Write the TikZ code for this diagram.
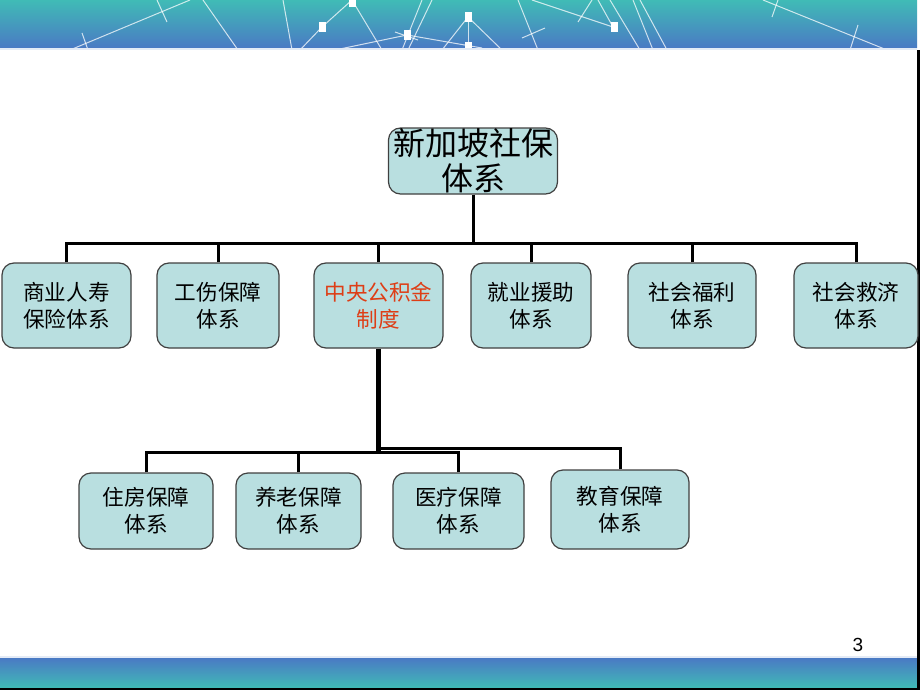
\documentclass[tikz,border=0pt]{standalone}
\usepackage{fontspec}
\setmainfont{Liberation Sans}
\newfontfamily\cjk{Noto Sans CJK SC}
\usepackage{tikz}
\tikzset{>=latex}
\usepackage{xcolor}
\definecolor{boxcol}{RGB}{185,223,224}
\definecolor{edgecol}{RGB}{64,64,64}
\definecolor{redcol}{RGB}{222,62,22}
\definecolor{tealcol}{RGB}{64,187,182}
\definecolor{bluecol}{RGB}{74,122,196}
\tikzstyle{sys box}=[draw=edgecol,line width=0.6pt,fill=boxcol,rounded corners=6pt,
    inner sep=0pt,align=center,minimum height=42.5pt,font=\cjk\fontsize{10.8}{13.5}\selectfont]
\tikzstyle{sub box}=[sys box,minimum height=38pt]
\tikzstyle{root box}=[sys box,minimum width=84.5pt,minimum height=33pt,
    font=\cjk\fontsize{16}{17.5}\selectfont]
\tikzstyle{link}=[line width=1.5pt,black]
\tikzstyle{net line}=[white,opacity=0.75,line width=0.5pt]

\begin{document}
\begin{tikzpicture}[x=0.5pt,y=-0.5pt]
    \useasboundingbox (0,0) rectangle (920,690);

    % banners
    \shade[top color=tealcol,bottom color=bluecol] (0,0) rectangle (917,48);
    \fill[white!85!bluecol] (0,48) rectangle (917,50);
    \begin{scope}
      \clip (0,0) rectangle (917,48);
      \foreach \xa/\ya/\xb/\yb in {70/50/190/0, 82/33/88/50, 157/0/167/22, 203/0/238/50,
          283/0/292/50, 300/50/322/27, 322/27/352/0, 352/0/382/50, 422/0/402/50, 432/0/408/50,
          335/50/407/35, 407/35/482/48, 395/32/418/40, 468/17/442/50, 468/17/502/50, 468/17/468/47,
          518/0/538/50, 522/38/545/28, 532/0/613/27, 578/22/592/0, 598/0/613/27, 610/0/640/50,
          633/0/653/50, 640/0/667/50, 763/0/887/50, 778/0/772/17, 858/25/850/50}
        \draw[net line] (\xa,\ya) -- (\xb,\yb);
      \foreach \xa/\ya in {352/2, 322/27, 407/35, 468/17, 468/47, 614/27}
        \fill[white] (\xa-3.5,\ya-5) rectangle (\xa+3.5,\ya+5);
    \end{scope}
    \fill[white!85!bluecol] (0,656) rectangle (917,658);
    \shade[top color=bluecol,bottom color=tealcol] (0,658) rectangle (917,688);
    \fill[black] (0,688) rectangle (920,690);
    \fill[black] (917,50) rectangle (920,690);

    \node[root box] (root) at (473,161) {新加坡社保\\体系};

    \node[sys box,minimum width=64.5pt] (shangye) at (66.5,305.5) {商业人寿\\保险体系};
    \node[sys box,minimum width=61pt] (gongshang) at (218,305.5) {工伤保障\\体系};
    \node[sys box,minimum width=64.5pt,text=redcol] (gongjijin) at (378.5,305.5) {中央公积金\\制度};
    \node[sys box,minimum width=60pt] (jiuye) at (531,305.5) {就业援助\\体系};
    \node[sys box,minimum width=64pt] (fuli) at (692,305.5) {社会福利\\体系};
    \node[sys box,minimum width=62pt] (jiuji) at (856,305.5) {社会救济\\体系};

    \node[sub box,minimum width=67pt] (zhufang) at (146,511) {住房保障\\体系};
    \node[sub box,minimum width=62.5pt] (yanglao) at (298.5,511) {养老保障\\体系};
    \node[sub box,minimum width=65.5pt] (yiliao) at (458.5,511) {医疗保障\\体系};
    \node[sub box,minimum width=69pt,minimum height=39.5pt] (jiaoyu) at (620,509.5) {教育保障\\体系};

    \node[font=\fontsize{9.5}{11}\selectfont] (pagenum) at (858,645) {3};

    % connectors
    \coordinate (topbar) at (473,243);
    \coordinate (lowbar) at (379,452);
    \coordinate (lowbar b) at (379,448);
    \draw[link] (root) -- (topbar);
    \foreach \n in {shangye,gongshang,gongjijin,jiuye,fuli,jiuji}
      \draw[link] (\n.north) |- (topbar);
    \draw[line width=2.5pt] (gongjijin.south) -- (gongjijin.south |- lowbar);
    \foreach \n in {zhufang,yanglao,yiliao}
      \draw[link] (\n.north) |- (lowbar);
    \draw[link] (jiaoyu.north) |- (lowbar b);
\end{tikzpicture}
\end{document}
